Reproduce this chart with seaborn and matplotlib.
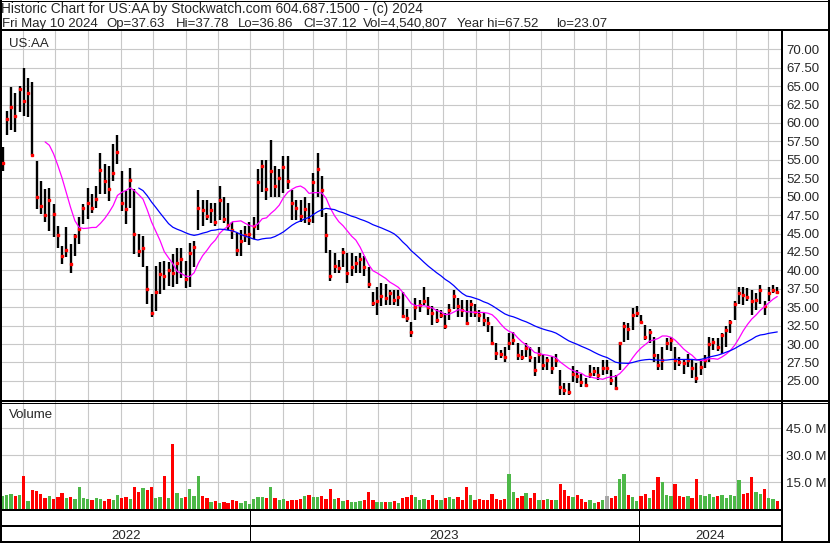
import seaborn as sns
import matplotlib.pyplot as plt
from matplotlib.lines import Line2D
import pandas as pd
import numpy as np

# US:AA historic chart (Stockwatch), May 2022 - May 2024
# values, one bar per 4 calendar days

bar_high = [56.8, 61.6, 64.9, 64.0, 65.0, 67.5, 66.1, 65.5, 54.9, 52.1,
            51.0, 51.2, 49.0, 46.0, 43.3, 45.9, 43.6, 45.0, 47.2, 49.0,
            51.2, 50.3, 51.5, 55.9, 54.4, 54.2, 57.1, 58.4, 53.5, 50.8,
            53.9, 51.0, 44.9, 44.7, 40.6, 36.8, 40.6, 41.1, 41.3, 41.1,
            42.2, 43.1, 43.0, 41.3, 43.7, 44.0, 50.9, 49.6, 49.6, 49.1,
            49.1, 51.4, 50.0, 49.1, 46.6, 45.1, 45.5, 46.0, 46.5, 47.3,
            53.7, 55.0, 55.0, 57.7, 54.1, 53.7, 55.5, 55.5, 50.9, 49.6,
            49.6, 50.0, 49.1, 53.2, 55.9, 52.8, 47.8, 42.8, 42.3, 41.4,
            43.0, 42.3, 42.3, 41.9, 42.3, 41.9, 40.5, 37.1, 37.8, 38.3,
            38.2, 37.3, 37.3, 37.3, 37.1, 34.8, 33.0, 36.2, 36.0, 37.8,
            36.4, 35.1, 34.8, 34.6, 34.2, 35.5, 37.3, 36.2, 36.0, 36.0,
            36.0, 35.5, 34.6, 34.2, 33.7, 32.4, 30.1, 29.2, 29.6, 31.5,
            31.7, 30.1, 29.2, 30.1, 29.6, 28.3, 29.6, 28.7, 28.3, 28.3,
            28.7, 26.5, 24.7, 24.7, 27.0, 26.5, 26.0, 25.4, 27.2, 26.9,
            26.9, 27.8, 27.8, 26.5, 25.8, 30.3, 33.0, 32.8, 34.9, 35.1,
            34.0, 32.6, 32.1, 31.0, 28.7, 29.6, 30.8, 31.0, 29.6, 28.3,
            27.8, 28.7, 27.8, 27.4, 27.8, 28.5, 31.0, 30.8, 30.8, 31.5,
            32.4, 33.3, 35.8, 37.8, 37.8, 37.6, 37.3, 36.9, 38.0, 35.8,
            37.8, 38.0, 37.78]

bar_low = [53.5, 58.4, 59.0, 58.8, 61.5, 60.9, 60.8, 55.6, 48.3, 47.6,
           46.5, 45.4, 44.5, 43.1, 40.8, 41.8, 39.7, 42.0, 43.6, 46.3,
           47.0, 47.8, 48.5, 50.3, 50.3, 49.4, 52.1, 54.4, 48.0, 46.3,
           48.5, 42.2, 41.8, 40.4, 35.5, 33.7, 34.5, 36.8, 37.3, 37.9,
           37.7, 38.2, 39.0, 37.6, 37.7, 40.5, 45.5, 46.0, 46.9, 46.4,
           46.0, 46.9, 46.4, 45.5, 44.2, 41.9, 41.9, 43.8, 43.5, 44.2,
           45.5, 50.7, 49.6, 50.0, 50.0, 50.0, 50.5, 51.0, 46.9, 46.9,
           46.5, 46.4, 46.2, 46.4, 50.0, 47.3, 42.3, 38.5, 39.6, 39.6,
           40.5, 38.3, 39.2, 39.6, 39.6, 39.2, 37.6, 35.1, 34.0, 35.1,
           35.3, 35.3, 35.3, 35.2, 33.5, 33.0, 31.0, 33.3, 34.4, 35.3,
           34.0, 32.6, 32.8, 33.5, 32.0, 33.3, 34.8, 33.7, 33.7, 32.6,
           33.7, 33.7, 33.0, 32.4, 31.7, 29.9, 27.8, 28.1, 27.6, 29.2,
           29.9, 27.8, 27.8, 28.3, 27.6, 25.6, 27.4, 26.5, 26.5, 26.0,
           26.9, 23.1, 23.1, 23.1, 24.9, 24.7, 24.2, 24.2, 25.4, 25.6,
           25.1, 25.8, 26.0, 24.4, 23.8, 26.5, 30.3, 30.6, 31.9, 33.7,
           32.8, 30.6, 30.1, 27.5, 26.5, 26.5, 29.2, 29.0, 26.5, 27.0,
           26.0, 26.9, 25.4, 24.7, 25.8, 26.7, 27.5, 29.2, 29.0, 28.7,
           29.6, 31.5, 33.3, 35.5, 35.3, 35.8, 34.0, 34.6, 35.5, 34.0,
           35.8, 36.9, 36.86]

bar_close = [54.6, 60.5, 62.1, 61.0, 64.6, 63.0, 64.1, 55.6, 50.0, 48.7,
             47.5, 49.6, 47.6, 44.8, 42.0, 42.8, 40.9, 44.6, 45.6, 48.4,
             49.2, 48.5, 49.7, 53.6, 52.1, 51.0, 53.2, 56.0, 49.2, 48.3,
             52.3, 44.9, 42.6, 43.1, 37.5, 34.2, 37.0, 39.5, 39.3, 40.0,
             39.6, 41.0, 41.5, 38.8, 42.3, 43.2, 48.5, 48.2, 47.4, 48.2,
             46.6, 49.6, 47.0, 46.1, 45.5, 42.8, 44.0, 44.8, 45.0, 46.0,
             52.0, 54.2, 51.0, 53.5, 51.5, 52.5, 54.0, 52.1, 49.2, 48.5,
             47.4, 48.3, 46.9, 52.0, 53.7, 50.9, 44.8, 39.2, 40.6, 40.3,
             42.5, 39.7, 40.5, 41.0, 41.5, 40.5, 38.1, 35.6, 35.8, 36.5,
             36.3, 36.9, 36.0, 36.4, 33.8, 33.5, 31.7, 35.0, 35.3, 35.9,
             35.0, 34.2, 33.2, 33.9, 32.4, 34.6, 36.5, 35.1, 34.6, 32.9,
             35.5, 34.4, 34.0, 33.3, 32.8, 30.1, 28.8, 28.7, 28.3, 30.1,
             30.5, 28.5, 28.3, 29.4, 28.2, 26.5, 28.6, 27.2, 27.8, 26.7,
             27.9, 24.2, 23.8, 23.5, 26.0, 25.7, 24.9, 24.5, 26.0, 26.3,
             25.8, 26.7, 26.7, 25.1, 24.0, 30.2, 32.4, 32.1, 34.0, 34.2,
             33.0, 31.0, 31.7, 28.5, 27.2, 27.8, 30.1, 30.6, 27.8, 27.6,
             27.4, 27.8, 26.7, 25.4, 26.9, 27.8, 30.0, 30.3, 29.6, 31.2,
             31.9, 33.0, 35.5, 36.9, 36.7, 36.4, 35.8, 36.0, 37.3, 35.1,
             36.9, 37.3, 37.12]

# volume in millions of shares
volume_m = [7.5, 8, 8.5, 7, 8, 18.4, 4.5, 10.5, 10, 8.5,
            6, 7, 5.5, 6.5, 8.8, 6, 6.5, 5.5, 12, 6,
            5.5, 5, 6, 5.5, 4.5, 5.5, 5, 7.8, 6, 6.5,
            5.5, 12.1, 9.5, 11.5, 10.5, 12, 6, 6.5, 18.4, 6,
            36.3, 8.8, 6, 6.5, 11, 7, 18.4, 7, 6, 4,
            4.5, 3.5, 4, 3.5, 5, 4.5, 3.5, 4.5, 3, 5.5,
            6.5, 6.5, 6, 12.5, 6, 5, 5.5, 4.5, 5, 5,
            5.5, 7.5, 8, 6.5, 6.5, 7, 5.5, 11, 5.5, 6,
            4.5, 5, 4, 4, 4.5, 5, 9.6, 5, 4, 4,
            4, 4, 4.5, 3.5, 6, 6.5, 8, 6.5, 5, 5.5,
            5, 7.8, 5, 5, 6, 6.5, 5.5, 6.5, 5, 12.5,
            8, 5, 5.5, 5, 5, 8.3, 5.5, 5, 5.5, 19.5,
            9.7, 6, 7.5, 9, 6, 9, 5, 5, 5.5, 5,
            5, 14.2, 10.6, 7, 6.5, 8, 5.5, 4, 5, 3.5,
            4, 5, 7, 6, 7.5, 16.6, 19.5, 8, 6.5, 4.5,
            7, 8.5, 6, 10.6, 17.7, 14.8, 8, 7, 14.2, 7,
            6.5, 7.5, 6, 16.6, 8, 7, 8.5, 6.5, 7, 8,
            6, 8, 7.5, 16.2, 8.5, 9, 18, 9.5, 8.5, 11,
            6, 5.5, 4.54]

price_ticks = [25, 27.5, 30, 32.5, 35, 37.5, 40, 42.5, 45, 47.5, 50,
               52.5, 55, 57.5, 60, 62.5, 65, 67.5, 70]
volume_ticks = [15e6, 30e6, 45e6]
volume_labels = ['15.0 M', '30.0 M', '45.0 M']
years = ['2022', '2023', '2024']

header1 = 'Historic Chart for US:AA by Stockwatch.com 604.687.1500 - (c) 2024'
header2 = ['Fri May 10 2024', 'Op=37.63', 'Hi=37.78', 'Lo=36.86', 'Cl=37.12',
           'Vol=4,540,807', 'Year hi=67.52', 'lo=23.07']
header2_x = [2, 106, 176, 238, 303, 363, 457, 556]

# Dataframe + moving averages
dates = pd.date_range('2022-05-13', periods=len(bar_close), freq='4D')
df = pd.DataFrame({'date': dates, 'high': bar_high, 'low': bar_low,
                   'close': bar_close, 'volume': np.array(volume_m) * 1e6})
df['ma_short'] = df['close'].rolling(11).mean()
df['ma_long'] = df['close'].rolling(33).mean()
chg = df['close'].diff().fillna(1)
vol_colors = ['#4DB848' if c > 0 else ('#FF0000' if c < 0 else '#A8A8A8') for c in chg]

sns.set_style('white')
plt.rcParams['font.family'] = ['Liberation Sans', 'DejaVu Sans']
FS = 9.5
GRID = '#C8C8C8'

W, H = 830, 543
fig = plt.figure(figsize=(W / 100, H / 100), dpi=100)


def box(x0, y0, x1, y1):
    # pixel box with top-left origin -> figure rect
    return [x0 / W, 1 - y1 / H, (x1 - x0) / W, (y1 - y0) / H]


ax1 = fig.add_axes(box(2, 31, 781, 400))
ax2 = fig.add_axes(box(2, 402, 781, 509))

xlim = (pd.Timestamp('2022-05-12 12:00'), pd.Timestamp('2024-05-13 12:00'))
months = pd.date_range('2022-06-01', '2024-05-01', freq='MS')

# Price panel
ax1.vlines(df['date'], df['low'], df['high'], color='black', lw=1.7, zorder=3)
ax1.plot(df['date'], df['close'], ls='none', marker='s', ms=1.5,
         mfc='red', mec='red', zorder=4)
sns.lineplot(data=df, x='date', y='ma_short', color='#FF00FF', lw=0.9, ax=ax1, zorder=5)
sns.lineplot(data=df, x='date', y='ma_long', color='#0000FF', lw=0.9, ax=ax1, zorder=5)
ax1.set_xlim(*xlim)
ax1.set_ylim(22.41, 72.48)
ax1.set_xticks(months)
ax1.set_yticks(price_ticks)
ax1.set_yticklabels([f'{t:.2f}' for t in price_ticks])
ax1.yaxis.tick_right()
ax1.tick_params(axis='x', length=0, labelbottom=False)
ax1.tick_params(axis='y', length=0, pad=4, labelsize=FS)
ax1.grid(True, color=GRID, lw=0.8)
ax1.set_xlabel('')
ax1.set_ylabel('')

# Volume panel
ax2.bar(df['date'], df['volume'], width=3.1, color=vol_colors, lw=0, zorder=3)
ax2.set_xlim(*xlim)
ax2.set_ylim(0, 59.7e6)
ax2.set_xticks(months)
ax2.set_yticks(volume_ticks)
ax2.set_yticklabels(volume_labels)
ax2.yaxis.tick_right()
ax2.tick_params(axis='x', length=0, labelbottom=False)
ax2.tick_params(axis='y', length=0, pad=3.5, labelsize=FS)
ax2.grid(True, color=GRID, lw=0.8)

for ax in (ax1, ax2):
    for s in ax.spines.values():
        s.set_visible(False)


# text in pixel coords (top-left origin)
def ptext(x, y, s, size=FS, **kw):
    fig.text(x / W, 1 - y / H, s, fontsize=size, **kw)


ptext(9, 418, 'Volume', va='baseline')
ptext(9, 47, 'US:AA', va='baseline')
ptext(1, 13, header1, size=9.9, va='baseline')
for s, xh in zip(header2, header2_x):
    ptext(xh, 27, s, va='baseline')
for yr, xc in zip(years, [126, 444, 710]):
    ptext(xc, 539, yr, ha='center', va='baseline')


# frame lines
def hline(y, x0, x1, lw=2):
    fig.add_artist(Line2D([x0 / W, x1 / W], [1 - y / H, 1 - y / H], color='black', lw=lw * 0.72))


def vline(x, y0, y1, lw=2):
    fig.add_artist(Line2D([x / W, x / W], [1 - y0 / H, 1 - y1 / H], color='black', lw=lw * 0.72))


hline(0.5, 0, 830, 1)
hline(30, 0, 830)
hline(400.5, 0, 830)
hline(402.5, 0, 830, 1)
hline(510, 0, 782)
hline(526, 0, 782)
hline(542, 0, 830)
vline(1, 0, 543, 2)
vline(829, 0, 543, 2)
vline(782, 30, 543, 2)
vline(250, 510, 543, 1)
vline(638.7, 510, 543, 1)

fig.savefig('out.png', dpi=100)
